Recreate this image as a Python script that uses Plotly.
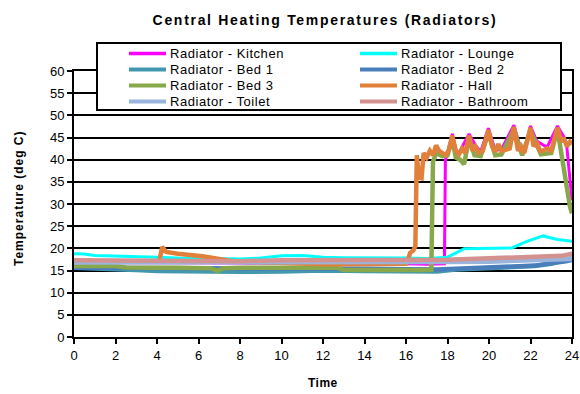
import plotly.graph_objects as go

# ---- readings (hours since midnight, deg C) ----
KITCHEN_T = [0, 2, 4, 6, 8, 10, 12, 14, 16, 17.0, 17.85, 17.9, 18.05, 18.23, 18.4, 18.55, 18.7,
             19.04, 19.35, 19.6, 19.97, 20.3, 20.6, 21.2, 21.5, 21.7, 22.0, 22.3, 22.8, 23.3,
             23.6, 23.75, 23.85, 24]
KITCHEN_V = [16.8, 16.8, 16.7, 16.7, 16.7, 16.6, 16.6, 16.6, 16.5, 16.4, 16.5, 40.0, 42.2, 45.8,
             42.3, 41.5, 42.8, 45.8, 43.2, 41.8, 47.1, 42.1, 42.3, 47.8, 42.8, 41.8, 47.6, 44.2,
             42.8, 47.6, 45.2, 43.0, 38.0, 30.8]

LOUNGE_T = [0, 0.5, 1, 2, 3, 4, 5, 6, 7, 8, 9, 10, 11, 12, 13, 14, 15, 16, 17, 18, 18.8,
            19.5, 20.5, 21.1, 21.8, 22.6, 23.3, 24]
LOUNGE_V = [18.8, 18.7, 18.4, 18.3, 18.2, 18.0, 17.8, 17.7, 17.6, 17.6, 17.8, 18.3, 18.4, 18.0,
            17.9, 17.9, 17.9, 17.8, 17.7, 18.0, 19.9, 20.0, 20.0, 20.1, 21.5, 22.8, 22.0, 21.6]

BED1_T = [0, 1, 2, 3, 4, 5, 6, 8, 10, 12, 14, 16, 17.5, 18.4, 19.2, 20, 21, 22.2, 23, 23.7, 24]
BED1_V = [15.6, 15.5, 15.4, 15.1, 14.9, 14.8, 14.7, 14.7, 14.8, 15.0, 14.9, 14.8, 14.8, 15.2,
          15.4, 15.7, 15.8, 16.0, 16.5, 17.3, 17.8]

BED2_T = [0, 2, 4, 6, 8, 10, 12, 14, 16, 17.5, 18.4, 20, 22.2, 23.7, 24]
BED2_V = [15.6, 15.6, 15.5, 15.5, 15.5, 15.5, 15.5, 15.4, 15.3, 15.2, 15.4, 15.8, 16.1, 17.1, 17.4]

BED3_T = [0, 1, 2, 2.5, 3, 4, 5, 6, 6.6, 6.9, 7.2, 8, 9, 10, 11, 12, 12.7, 13, 14, 15, 16,
          16.5, 17.0, 17.22, 17.3, 17.45, 17.6, 17.75, 18.0, 18.23, 18.4, 18.6, 18.8, 19.04,
          19.3, 19.6, 19.97, 20.3, 20.6, 21.2, 21.6, 22.0, 22.5, 23.0, 23.3, 23.5, 23.7, 23.9, 24]
BED3_V = [16.0, 16.0, 16.0, 15.7, 15.6, 15.6, 15.6, 15.6, 15.5, 14.9, 15.5, 15.6, 15.6, 15.6,
          15.6, 15.6, 15.6, 15.1, 15.1, 15.0, 14.9, 14.9, 15.1, 15.2, 39.5, 41.5, 41.2, 40.8,
          41.0, 44.8, 40.5, 40.0, 39.0, 44.8, 41.0, 40.8, 46.0, 41.0, 41.2, 46.8, 41.0, 46.6,
          41.2, 41.5, 46.8, 40.5, 34.6, 29.5, 27.9]

HALL_T = [0, 1, 2, 3, 4, 4.1, 4.15, 4.25, 4.45, 5.0, 6.2, 6.8, 7.5, 8, 9, 10, 11, 12, 13, 14,
          15, 16, 16.1, 16.2, 16.35, 16.45, 16.52, 16.62, 16.75, 16.85, 17.0, 17.15, 17.3,
          17.45, 17.6, 17.75, 17.9, 18.05, 18.23, 18.4, 18.55, 18.7, 18.85, 19.04, 19.2, 19.35,
          19.5, 19.7, 19.97, 20.15, 20.3, 20.45, 20.6, 20.8, 21.0, 21.2, 21.4, 21.55, 21.7,
          22.0, 22.15, 22.3, 22.45, 22.6, 22.8, 23.0, 23.3, 23.5, 23.6, 23.75, 23.9, 24]
HALL_V = [17.0, 17.0, 17.0, 17.0, 17.0, 17.0, 18.0, 20.3, 19.2, 18.8, 18.2, 17.7, 17.2, 17.0,
          16.8, 16.6, 16.4, 16.4, 16.4, 16.4, 16.4, 16.5, 17.5, 19.0, 19.5, 20.5, 41.0, 36.0,
          35.8, 41.5, 40.5, 42.0, 41.0, 43.2, 42.0, 41.5, 41.0, 42.0, 45.4, 42.0, 41.2, 42.5,
          41.5, 45.4, 42.0, 43.0, 41.5, 42.0, 46.7, 43.0, 41.8, 43.5, 42.0, 42.2, 42.5, 47.4,
          42.0, 43.0, 41.5, 47.2, 43.0, 44.0, 42.0, 42.0, 42.5, 42.0, 47.2, 44.0, 45.0, 43.0,
          44.0, 43.5]

TOILET_T = [0, 4, 8, 12, 16, 18, 20, 22, 24]
TOILET_V = [16.8, 16.8, 16.7, 16.7, 16.8, 16.9, 17.0, 17.2, 17.6]

BATH_T = [0, 2, 4, 6, 8, 10, 12, 14, 16, 17, 18, 19, 20, 21, 22, 23, 23.5, 24]
BATH_V = [17.3, 17.2, 17.2, 17.2, 17.1, 17.3, 17.3, 17.2, 17.2, 17.3, 17.4, 17.6, 17.7, 17.8,
          17.9, 18.0, 18.3, 18.8]

NAMES = ["Radiator - Kitchen", "Radiator - Lounge", "Radiator - Bed 1", "Radiator - Bed 2",
         "Radiator - Bed 3", "Radiator - Hall", "Radiator - Toilet", "Radiator - Bathroom"]
TIMES = [KITCHEN_T, LOUNGE_T, BED1_T, BED2_T, BED3_T, HALL_T, TOILET_T, BATH_T]
TEMPS = [KITCHEN_V, LOUNGE_V, BED1_V, BED2_V, BED3_V, HALL_V, TOILET_V, BATH_V]
COLORS = ["#FF00FF", "#00FFFF", "#4198AF", "#4A7EBB", "#88A84B", "#E0803A", "#9AB4DB", "#D39290"]
WIDTHS = [3, 3, 4.5, 4.5, 4.5, 4.5, 4.5, 4.5]

X_TICKS = list(range(0, 25, 2))
Y_TICKS = list(range(0, 61, 5))

TITLE = "Central Heating Temperatures (Radiators)"
X_TITLE = "Time"
Y_TITLE = "Temperature (deg C)"

FONT = "Liberation Sans, Arial, sans-serif"
W, H = 580, 394
L, R, T, B = 74, 8, 71, 57
PW, PH = W - L - R, H - T - B


def px(x):
    return (x - L) / PW


def py(y):
    return 1 - (y - T) / PH


def spaced(text, gap, bold=False):
    inner = f"<b>{text}</b>" if bold else text
    return f'<span style="letter-spacing:{gap}px">{inner}</span>'


fig = go.Figure()
for name, t, v, c, w in zip(NAMES, TIMES, TEMPS, COLORS, WIDTHS):
    fig.add_trace(go.Scatter(x=t, y=v, mode="lines", name=name, showlegend=False,
                             line=dict(color=c, width=w)))

# legend panel (two columns, four rows)
shapes = [dict(type="rect", xref="paper", yref="paper", layer="above",
               x0=px(97), x1=px(561), y0=py(110), y1=py(43),
               line=dict(color="black", width=2), fillcolor="white")]
annotations = []
col_x = [129, 360]
row_y = [53.5, 69.5, 85.5, 101.5]
for i, (name, c) in enumerate(zip(NAMES, COLORS)):
    cx, ry = col_x[i % 2], row_y[i // 2]
    shapes.append(dict(type="line", xref="paper", yref="paper", layer="above",
                       x0=px(cx), x1=px(cx + 37), y0=py(ry), y1=py(ry),
                       line=dict(color=c, width=4 if i > 1 else 3.5)))
    annotations.append(dict(xref="paper", yref="paper", x=px(cx + 39), y=py(ry),
                            xanchor="left", yanchor="middle", showarrow=False,
                            text=spaced(name, 0.55),
                            font=dict(family=FONT, size=13, color="black")))

# axis titles
annotations.append(dict(xref="paper", yref="paper", x=px(19), y=py(199),
                        xanchor="center", yanchor="middle", textangle=-90, showarrow=False,
                        text=spaced(Y_TITLE, 1.0, bold=True),
                        font=dict(family=FONT, size=12, color="black")))
annotations.append(dict(xref="paper", yref="paper", x=px(323), y=py(383),
                        xanchor="center", yanchor="middle", showarrow=False,
                        text=spaced(X_TITLE, 0.5, bold=True),
                        font=dict(family=FONT, size=12, color="black")))

fig.update_layout(
    width=W, height=H,
    margin=dict(l=L, r=R, t=T, b=B, pad=0, autoexpand=False),
    paper_bgcolor="white", plot_bgcolor="white",
    font=dict(family=FONT, color="black", size=12),
    title=dict(text=spaced(TITLE, 1.7, bold=True),
               x=px(353), xanchor="center", y=1 - 20 / H, yanchor="middle",
               font=dict(family=FONT, size=14, color="black")),
    shapes=shapes, annotations=annotations,
    xaxis=dict(range=[0, 24], tickvals=X_TICKS, ticktext=[str(v) for v in X_TICKS],
               showgrid=False, zeroline=False, showline=True, linecolor="black", linewidth=2,
               mirror=True, ticks="outside", ticklen=5, tickwidth=2, tickcolor="black",
               tickfont=dict(size=13), automargin=False),
    yaxis=dict(range=[0, 60], tickvals=Y_TICKS, ticktext=[str(v) for v in Y_TICKS],
               showgrid=True, gridcolor="black", gridwidth=2, zeroline=False,
               showline=True, linecolor="black", linewidth=2, mirror=True,
               ticks="outside", ticklen=5, tickwidth=2, tickcolor="black",
               tickfont=dict(size=13), automargin=False),
)

fig.write_html("out.html")
